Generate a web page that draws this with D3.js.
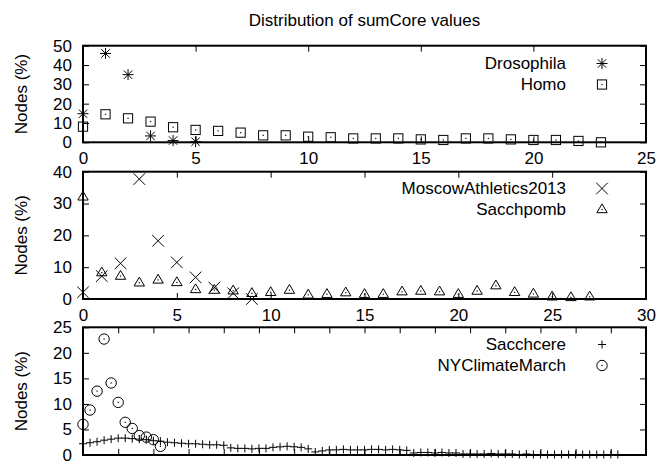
<!DOCTYPE html>
<html><head><meta charset="utf-8">
<script src="https://cdn.jsdelivr.net/npm/d3@7"></script>
<style>
body{margin:0;background:#fff}
svg{display:block}
text{font-family:"Liberation Sans",Arial,Helvetica,sans-serif;fill:#000}
</style>
</head><body>
<svg id="chart" width="658" height="461"></svg>
<script>
const title = "Distribution of sumCore values";
const yLabel = "Nodes (%)";

// Panel 1
const drosophila = [14.8, 46, 35, 3.3, 0.9, 0.3];
const homo = [8.1, 14.5, 12.4, 10.7, 7.8, 6.4, 5.9, 5.0, 3.6, 3.6, 2.9, 2.6, 2.0, 2.0, 2.0, 1.5, 1.2, 2.0, 2.0, 1.5, 1.2, 1.2, 0.7, 0.0];
const xTicks1 = [0, 5, 10, 15, 20, 25];
const yTicks1 = [0, 10, 20, 30, 40, 50];

// Panel 2
const moscow = [2.1, 7.2, 11.2, 37.7, 18.3, 11.5, 6.8, 3.6, 1.8, 0];
const sacchpomb = [32.1, 8.3, 7.2, 5.1, 6.0, 5.2, 3.0, 2.8, 2.6, 1.8, 2.1, 2.8, 1.3, 1.5, 2.0, 1.5, 1.5, 2.3, 2.5, 2.3, 1.5, 2.5, 4.2, 2.1, 1.6, 0.7, 0.5, 0.7];
const xTicks2 = [0, 5, 10, 15, 20, 25, 30];
const yTicks2 = [0, 10, 20, 30, 40];

// Panel 3
const sacchcere = [2.2, 2.4, 2.6, 2.9, 3.1, 3.3, 3.3, 3.2, 3.1, 3.0, 2.8, 2.7, 2.5, 2.4, 2.3, 2.2, 2.2, 2.1, 2.0, 2.0,
  1.9, 1.4, 1.3, 1.3, 1.2, 1.3, 1.3, 1.5, 1.6, 1.7, 1.6, 1.5, 1.2, 0.6, 0.8, 1.0, 1.0, 1.1, 1.0, 1.0,
  1.0, 1.1, 1.1, 1.0, 1.1, 1.0, 0.9, 0.4, 0.5, 0.5, 0.4, 0.5, 0.4, 0.4, 0.2, 0.2, 0.2, 0.2, 0.3, 0.2,
  0.2, 0.2, 0.1, 0.2, 0.1, 0.1, 0.1, 0.1, 0.1, 0.1, 0.1, 0.1, 0.1, 0.1, 0.1, 0.1, 0.1];
const nyclimate = [6.0, 8.8, 12.5, 22.7, 14.1, 10.3, 6.4, 5.2, 3.8, 3.5, 3.0, 1.7];
const xTicks3 = d3.range(0, 81, 5);
const yTicks3 = [0, 5, 10, 15, 20, 25];

const svg = d3.select("#chart");
const FS = 17;
const L = 83, R = 646;

svg.append("text").attr("x", (L + R) / 2).attr("y", 20).attr("dy", "0.35em")
  .attr("text-anchor", "middle").attr("font-size", FS).text(title);

// symbol drawers
function dot(g, x, y) {
  g.append("rect").attr("x", x - 0.6).attr("y", y - 0.6).attr("width", 1.2).attr("height", 1.2).attr("fill", "#000");
}
const symbols = {
  asterisk(g, x, y) {
    const s = 5.5, d = 4.2;
    g.append("path").attr("d",
      `M${x - s},${y}L${x + s},${y}M${x},${y - s}L${x},${y + s}M${x - d},${y - d}L${x + d},${y + d}M${x - d},${y + d}L${x + d},${y - d}`)
      .attr("stroke", "#000").attr("stroke-width", 1).attr("fill", "none");
  },
  square(g, x, y) {
    const s = 4.6;
    g.append("rect").attr("x", x - s).attr("y", y - s).attr("width", 2 * s).attr("height", 2 * s)
      .attr("stroke", "#000").attr("stroke-width", 1).attr("fill", "none");
    dot(g, x, y);
  },
  cross(g, x, y) {
    const s = 5.8;
    g.append("path").attr("d", `M${x - s},${y - s}L${x + s},${y + s}M${x - s},${y + s}L${x + s},${y - s}`)
      .attr("stroke", "#000").attr("stroke-width", 1).attr("fill", "none");
  },
  triangle(g, x, y) {
    g.append("path").attr("d", `M${x},${y - 5.6}L${x - 5.2},${y + 3.2}L${x + 5.2},${y + 3.2}Z`)
      .attr("stroke", "#000").attr("stroke-width", 1).attr("fill", "none");
    dot(g, x, y);
  },
  plus(g, x, y) {
    const s = 4;
    g.append("path").attr("d", `M${x - s},${y}L${x + s},${y}M${x},${y - s}L${x},${y + s}`)
      .attr("stroke", "#000").attr("stroke-width", 1).attr("fill", "none");
  },
  circle(g, x, y) {
    g.append("circle").attr("cx", x).attr("cy", y).attr("r", 5.2)
      .attr("stroke", "#000").attr("stroke-width", 1).attr("fill", "none");
    dot(g, x, y);
  }
};

function panel(cfg) {
  const x = d3.scaleLinear().domain(cfg.xDomain).range([L, R]);
  const y = d3.scaleLinear().domain(cfg.yDomain).range([cfg.bottom, cfg.top]);
  const g = svg.append("g");

  const bottomAxis = d3.axisBottom(x).tickValues(cfg.xTicks).tickSizeInner(-6).tickSizeOuter(0).tickPadding(10);
  if (!cfg.xLabels) bottomAxis.tickFormat("");
  const ba = g.append("g").attr("transform", `translate(0,${cfg.bottom})`).call(bottomAxis);
  const ta = g.append("g").attr("transform", `translate(0,${cfg.top})`)
    .call(d3.axisTop(x).tickValues(cfg.xTicks).tickSizeInner(-6).tickSizeOuter(0).tickFormat(""));
  const la = g.append("g").attr("transform", `translate(${L},0)`)
    .call(d3.axisLeft(y).tickValues(cfg.yTicks).tickSizeInner(-6).tickSizeOuter(0).tickPadding(11));
  const ra = g.append("g").attr("transform", `translate(${R},0)`)
    .call(d3.axisRight(y).tickValues(cfg.yTicks).tickSizeInner(-6).tickSizeOuter(0).tickFormat(""));
  [ba, ta, la, ra].forEach(a => {
    a.select(".domain").remove();
    a.selectAll(".tick line").attr("stroke", "#000").attr("stroke-width", 1);
    a.selectAll("text").attr("font-size", FS).attr("font-family", '"Liberation Sans",Arial,sans-serif').attr("fill", "#000");
  });

  g.append("text").attr("transform", `translate(21,${(cfg.top + cfg.bottom) / 2}) rotate(-90)`)
    .attr("text-anchor", "middle").attr("dy", "0.35em").attr("font-size", FS).text(yLabel);

  const marks = g.append("g");
  cfg.series.forEach(s => {
    s.values.forEach((v, i) => symbols[s.symbol](marks, x(i), y(v)));
  });

  g.append("rect").attr("x", L).attr("y", cfg.top).attr("width", R - L).attr("height", cfg.bottom - cfg.top)
    .attr("fill", "none").attr("stroke", "#000").attr("stroke-width", 2);

  // legend
  cfg.series.forEach((s, i) => {
    const ly = cfg.legendY + i * 21;
    g.append("text").attr("x", 566).attr("y", ly).attr("dy", "0.35em").attr("text-anchor", "end")
      .attr("font-size", FS).text(s.name);
    symbols[s.symbol](g, 602, ly);
  });
}

panel({
  xDomain: [0, 25], yDomain: [0, 50], top: 45.7, bottom: 142.3,
  xTicks: xTicks1, yTicks: yTicks1, xLabels: true, legendY: 63.5,
  series: [{ name: "Drosophila", values: drosophila, symbol: "asterisk" },
           { name: "Homo", values: homo, symbol: "square" }]
});
panel({
  xDomain: [0, 30], yDomain: [0, 40], top: 171.7, bottom: 299,
  xTicks: xTicks2, yTicks: yTicks2, xLabels: true, legendY: 188.5,
  series: [{ name: "MoscowAthletics2013", values: moscow, symbol: "cross" },
           { name: "Sacchpomb", values: sacchpomb, symbol: "triangle" }]
});
panel({
  xDomain: [0, 80], yDomain: [0, 25], top: 327.3, bottom: 455,
  xTicks: xTicks3, yTicks: yTicks3, xLabels: false, legendY: 344.5,
  series: [{ name: "Sacchcere", values: sacchcere, symbol: "plus" },
           { name: "NYClimateMarch", values: nyclimate, symbol: "circle" }]
});
</script>
</body></html>
